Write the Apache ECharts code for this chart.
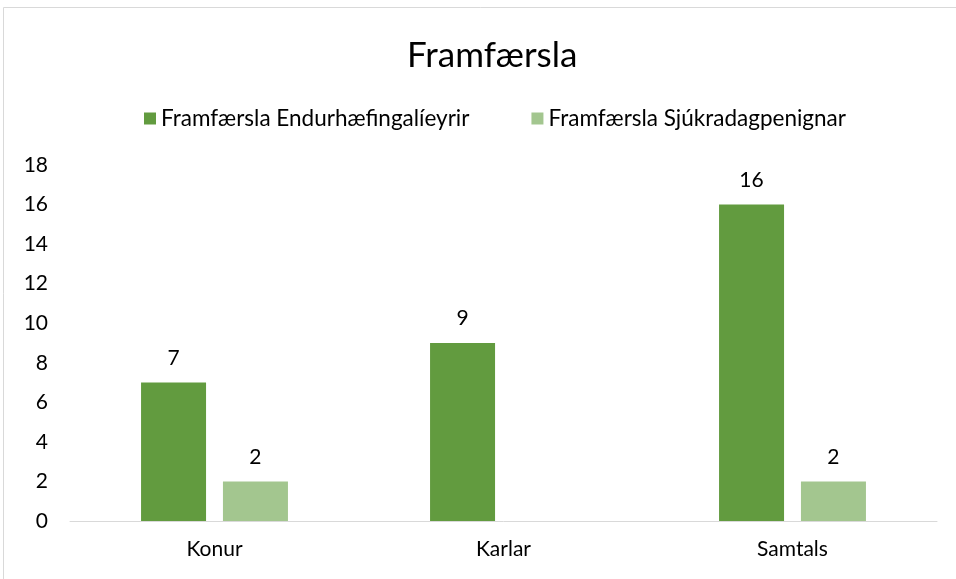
<!DOCTYPE html>
<html>
<head>
<meta charset="utf-8">
<script src="https://cdn.jsdelivr.net/npm/echarts@6/dist/echarts.min.js"></script>
<style>
  html, body { margin: 0; padding: 0; background: #fff; }
  #chart { width: 956px; height: 579px; }
</style>
</head>
<body>
<div id="chart"></div>
<script>
// gögn
var categories = ['Konur', 'Karlar', 'Samtals'];
var endurhaefing = [7, 9, 16];
var sjukradag = [2, null, 2];
var seriesNames = ['Framfærsla Endurhæfingalíeyrir', 'Framfærsla Sjúkradagpenignar'];

var font = 'Lato';
var chart = echarts.init(document.getElementById('chart'));

var barLabel = {
  show: true,
  position: 'top',
  distance: 14,
  color: '#000',
  fontSize: 21,
  fontFamily: font
};

chart.setOption({
  animation: false,
  title: {
    text: 'Framfærsla',
    left: 402,
    top: 33,
    textStyle: { fontFamily: font, fontSize: 35, fontWeight: 'normal', color: '#000' }
  },
  legend: {
    top: 102,
    left: 139,
    itemWidth: 12,
    itemHeight: 12,
    itemGap: 62,
    icon: 'rect',
    textStyle: { fontFamily: font, fontSize: 22.5, color: '#000' },
    data: seriesNames
  },
  graphic: [{
    type: 'rect',
    shape: { x: 3.5, y: 7.5, width: 1200, height: 1200 },
    style: { fill: 'none', stroke: '#d9d9d9', lineWidth: 1 },
    silent: true
  }],
  grid: { left: 70, right: 19, top: 165, bottom: 58 },
  xAxis: {
    type: 'category',
    data: categories,
    axisLine: { lineStyle: { color: '#d9d9d9', width: 1 } },
    axisTick: { show: false },
    axisLabel: { fontFamily: font, fontSize: 21, color: '#000', margin: 18 }
  },
  yAxis: {
    type: 'value',
    min: 0,
    max: 18,
    interval: 2,
    axisLine: { show: false },
    axisTick: { show: false },
    splitLine: { show: false },
    axisLabel: { fontFamily: font, fontSize: 21, color: '#000', margin: 22 }
  },
  series: [
    {
      name: seriesNames[0],
      type: 'bar',
      data: endurhaefing,
      barWidth: 65,
      barGap: '26%',
      itemStyle: { color: '#629b3f' },
      label: barLabel
    },
    {
      name: seriesNames[1],
      type: 'bar',
      data: sjukradag,
      barWidth: 65,
      itemStyle: { color: '#a3c68f' },
      label: barLabel
    }
  ]
});
</script>
</body>
</html>
